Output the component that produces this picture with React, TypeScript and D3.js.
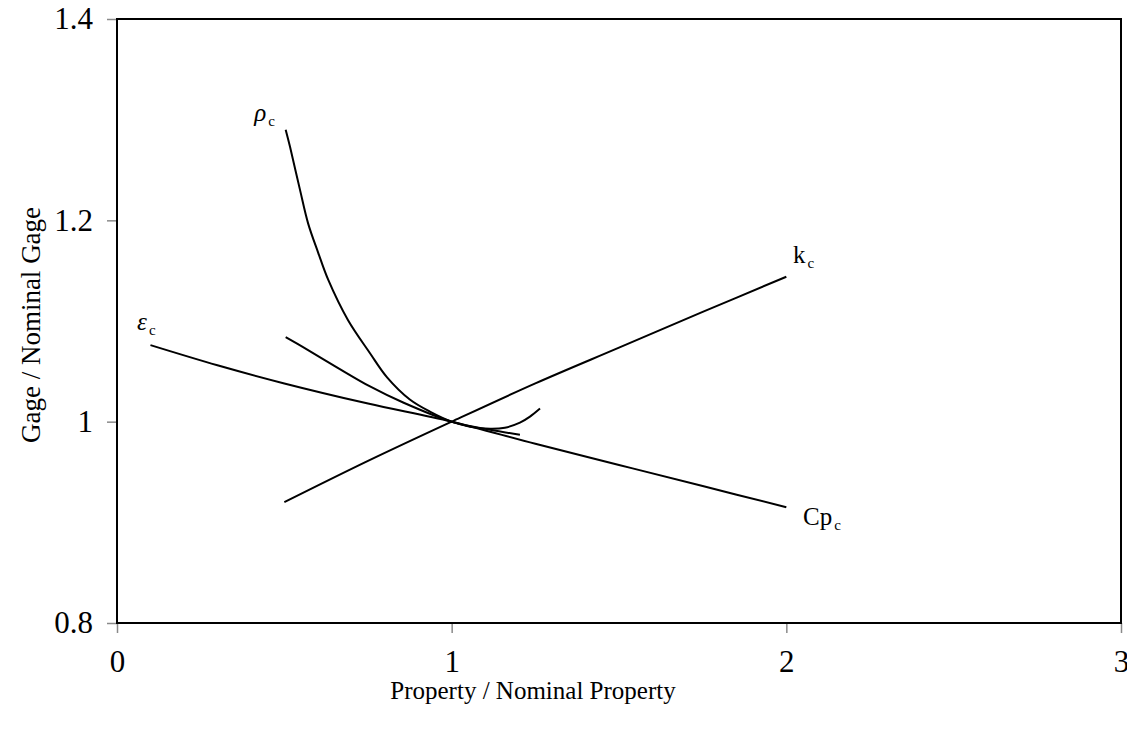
import React, { useEffect, useRef } from "react";
import * as d3 from "d3";

// Gage ratio versus property ratio, one curve per material property
const rhoX = [0.504, 0.517, 0.547, 0.571, 0.601, 0.631, 0.69, 0.756, 0.807, 0.875, 0.935, 1.0, 1.055, 1.115, 1.159, 1.204, 1.234, 1.264];
const rhoY = [1.29, 1.273, 1.23, 1.197, 1.168, 1.141, 1.101, 1.068, 1.044, 1.022, 1.01, 1.0, 0.995, 0.993, 0.994, 0.999, 1.005, 1.013];

const kX = [0.5, 0.75, 1.0, 1.25, 1.5, 1.75, 2.0];
const kY = [0.92, 0.961, 1.0, 1.038, 1.0735, 1.109, 1.144];

const epsX = [0.1, 0.3, 0.5, 0.75, 1.0, 1.25, 1.5, 1.75, 2.0];
const epsY = [1.076, 1.056, 1.038, 1.018, 1.0, 0.978, 0.957, 0.936, 0.915];

const cpX = [0.504, 0.556, 0.657, 0.756, 0.855, 1.0, 1.115, 1.204];
const cpY = [1.084, 1.074, 1.054, 1.035, 1.019, 1.0, 0.992, 0.987];

const xTicks = [0, 1, 2, 3];
const yTicks = [0.8, 1.0, 1.2, 1.4];

// Curve labels: symbol, subscript, anchor in data units
const labelSymbols = ["ρ", "k", "ε", "Cp"];
const labelItalic = [true, false, true, false];
const labelX = [0.41, 2.02, 0.06, 2.05];
const labelY = [1.299, 1.158, 1.091, 0.897];

const xTitle = "Property / Nominal Property";
const yTitle = "Gage / Nominal Gage";

const W = 1127;
const H = 733;
const margin = { left: 117, top: 19, right: 6, bottom: 110 };

export default function App() {
  const ref = useRef<SVGSVGElement>(null);

  useEffect(() => {
    const svg = d3.select(ref.current);
    svg.selectAll("*").remove();

    const x = d3.scaleLinear().domain([0, 3]).range([margin.left, W - margin.right]);
    const y = d3.scaleLinear().domain([0.8, 1.4]).range([H - margin.bottom, margin.top]);

    const font = "'Liberation Serif', 'Times New Roman', serif";

    // axes with outward grey ticks
    const gx = svg
      .append("g")
      .attr("transform", `translate(0,${y(0.8)})`)
      .call(d3.axisBottom(x).tickValues(xTicks).tickSize(10).tickPadding(17).tickFormat((d) => String(d)));
    const gy = svg
      .append("g")
      .attr("transform", `translate(${x(0)},0)`)
      .call(
        d3.axisLeft(y).tickValues(yTicks).tickSize(10).tickPadding(14).tickFormat((d) => String(+(+d).toFixed(1)))
      );
    [gx, gy].forEach((g) => {
      g.select(".domain").remove();
      g.selectAll(".tick line").attr("stroke", "#8a8a8a").attr("stroke-width", 1.5);
      g.selectAll(".tick text").attr("font-family", font).attr("font-size", 31).attr("fill", "#000");
    });

    // plot frame
    svg
      .append("rect")
      .attr("x", x(0))
      .attr("y", y(1.4))
      .attr("width", x(3) - x(0))
      .attr("height", y(0.8) - y(1.4))
      .attr("fill", "none")
      .attr("stroke", "#000")
      .attr("stroke-width", 2);

    const line = d3
      .line<[number, number]>()
      .x((d) => x(d[0]))
      .y((d) => y(d[1]))
      .curve(d3.curveCatmullRom.alpha(0.5));

    const series: [number[], number[]][] = [
      [rhoX, rhoY],
      [kX, kY],
      [epsX, epsY],
      [cpX, cpY],
    ];
    series.forEach(([xs, ys]) => {
      const pts = xs.map((v, i) => [v, ys[i]] as [number, number]);
      svg
        .append("path")
        .attr("d", line(pts))
        .attr("fill", "none")
        .attr("stroke", "#000")
        .attr("stroke-width", 2);
    });

    // curve labels with subscript c
    labelSymbols.forEach((s, i) => {
      const t = svg
        .append("text")
        .attr("x", x(labelX[i]))
        .attr("y", y(labelY[i]))
        .attr("font-family", font)
        .attr("font-size", 25)
        .attr("fill", "#000");
      t.append("tspan").attr("font-style", labelItalic[i] ? "italic" : "normal").text(s);
      t.append("tspan").attr("font-size", 15).attr("dx", 2).attr("dy", 5).text("c");
    });

    // axis titles
    svg
      .append("text")
      .attr("x", 533)
      .attr("y", 699)
      .attr("text-anchor", "middle")
      .attr("font-family", font)
      .attr("font-size", 25)
      .text(xTitle);
    svg
      .append("text")
      .attr("transform", `translate(40,${(y(0.8) + y(1.4)) / 2 + 4}) rotate(-90)`)
      .attr("text-anchor", "middle")
      .attr("font-family", font)
      .attr("font-size", 27)
      .text(yTitle);
  }, []);

  return (
    <svg
      ref={ref}
      width={W}
      height={H}
      style={{ position: "absolute", left: 0, top: 0, background: "#fff" }}
    />
  );
}
